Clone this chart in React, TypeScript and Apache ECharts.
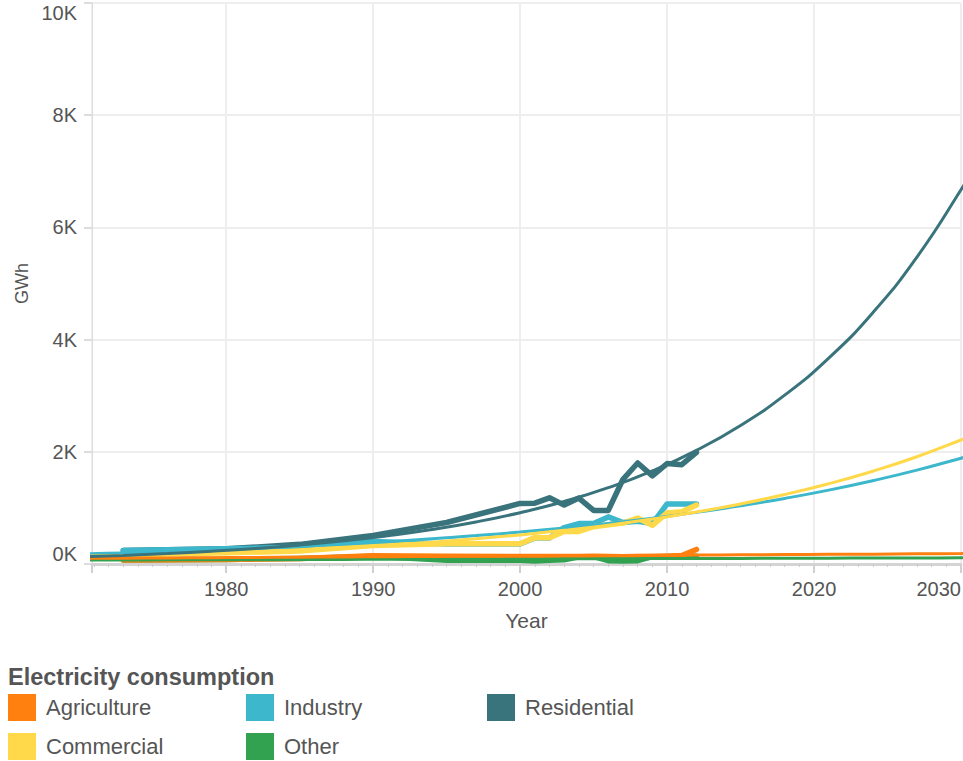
import React, { useEffect, useRef } from "react";
import * as echarts from "echarts";

const FONT = "'Liberation Sans', Arial, sans-serif";

const colors: Record<string, string> = {
  Agriculture: "#FF7F0F",
  Commercial: "#FFD94A",
  Industry: "#3CB7CC",
  Other: "#32A251",
  Residential: "#39737C",
};

const actualYears = [1973, 1980, 1985, 1990, 1995, 2000, 2001, 2002, 2003, 2004, 2005, 2006, 2007, 2008, 2009, 2010, 2011, 2012];
const agricultureActual = [70, 80, 100, 145, 140, 135, 135, 135, 135, 135, 140, 135, 130, 135, 135, 140, 150, 260];
const commercialActual = [160, 200, 230, 330, 360, 360, 470, 470, 580, 580, 665, 700, 730, 820, 690, 910, 930, 1050];
const industryActual = [240, 270, 300, 400, 355, 355, 465, 465, 650, 720, 720, 840, 740, 760, 720, 1070, 1070, 1070];
const otherActual = [70, 80, 100, 140, 65, 65, 55, 65, 75, 130, 130, 60, 55, 60, 130, 135, 140, 140];
const residentialActual = [240, 270, 350, 510, 740, 1080, 1085, 1180, 1050, 1175, 955, 955, 1510, 1800, 1570, 1790, 1770, 1990];

const trendYears = [1970, 1973, 1976, 1979, 1982, 1985, 1988, 1991, 1994, 1997, 2000, 2003, 2006, 2009, 2012, 2015, 2018, 2021, 2024, 2027, 2030, 2031];
const agricultureTrend = [100, 104, 108, 113, 117, 121, 125, 130, 134, 138, 142, 147, 151, 155, 159, 164, 168, 172, 176, 181, 185, 187];
const commercialTrend = [140, 150, 163, 188, 217, 251, 290, 336, 388, 449, 519, 600, 693, 801, 926, 1071, 1238, 1431, 1654, 1912, 2210, 2320];
const industryTrend = [180, 194, 219, 247, 278, 313, 353, 398, 449, 506, 570, 643, 724, 816, 920, 1037, 1169, 1317, 1485, 1673, 1886, 1960];
const otherTrend = [70, 72, 74, 76, 78, 80, 82, 84, 86, 88, 90, 92, 94, 96, 98, 100, 102, 104, 106, 108, 110, 111];
const residentialTrend = [126, 153, 187, 228, 278, 340, 413, 505, 615, 750, 915, 1115, 1360, 1660, 2025, 2470, 3010, 3670, 4480, 5470, 6670, 7120];

const yTicks = [0, 2000, 4000, 6000, 8000, 10000];

const legendRow1 = ["Agriculture", "Industry", "Residential"];
const legendRow2 = ["Commercial", "Other"];

const actualMap: Record<string, number[]> = {
  Agriculture: agricultureActual,
  Commercial: commercialActual,
  Industry: industryActual,
  Other: otherActual,
  Residential: residentialActual,
};
const trendMap: Record<string, number[]> = {
  Agriculture: agricultureTrend,
  Commercial: commercialTrend,
  Industry: industryTrend,
  Other: otherTrend,
  Residential: residentialTrend,
};

const actualOrder = ["Residential", "Other", "Industry", "Commercial", "Agriculture"];
const trendOrder = ["Other", "Industry", "Commercial", "Agriculture", "Residential"];

export default function App() {
  const ref = useRef<HTMLDivElement>(null);
  useEffect(() => {
    if (!ref.current) return;
    const chart = echarts.init(ref.current, undefined, { renderer: "svg" });
    const series: any[] = [];
    actualOrder.forEach((name) => {
      series.push({
        name,
        type: "line",
        data: actualYears.map((y, i) => [y, actualMap[name][i]]),
        showSymbol: false,
        symbol: "none",
        z: 2,
        itemStyle: { color: colors[name] },
        lineStyle: { color: colors[name], width: 5.5, cap: "round", join: "round" },
      });
    });
    trendOrder.forEach((name) => {
      series.push({
        name,
        type: "line",
        data: trendYears.map((y, i) => [y, trendMap[name][i]]),
        showSymbol: false,
        symbol: "none",
        smooth: true,
        z: 3,
        itemStyle: { color: colors[name] },
        lineStyle: { color: colors[name], width: 3 },
      });
    });
    const legendBase = {
      orient: "horizontal",
      icon: "rect",
      itemWidth: 28,
      itemHeight: 27,
      itemGap: 5,
      padding: 0,
      selectedMode: false,
      textStyle: { fontSize: 22, color: "#555", padding: [0, 0, 0, 5], fontFamily: FONT },
    };
    const colX = [8, 246, 487];
    const legends: any[] = [];
    legendRow1.forEach((n, i) => legends.push({ ...legendBase, left: colX[i], top: 694, data: [n] }));
    legendRow2.forEach((n, i) => legends.push({ ...legendBase, left: colX[i], top: 733, data: [n] }));
    chart.setOption({
      animation: false,
      textStyle: { fontFamily: FONT },
      title: {
        text: "Electricity consumption",
        left: 8,
        top: 665,
        padding: 0,
        textStyle: { fontSize: 23.5, fontWeight: "bold", color: "#555", fontFamily: FONT },
      },
      legend: legends,
      grid: { left: 92, right: 2, top: 3, bottom: 197, containLabel: false, outerBoundsMode: "none" },
      xAxis: {
        type: "value",
        min: 1970.87,
        max: 2030,
        name: "Year",
        nameLocation: "middle",
        nameGap: 46,
        nameTextStyle: { fontSize: 21, color: "#555", fontFamily: FONT },
        axisLine: { show: true, lineStyle: { color: "#d4d4d4", width: 3 } },
        axisTick: { show: true, length: 9, lineStyle: { color: "#d0d0d0", width: 2 } },
        minorTick: { show: true, splitNumber: 10, length: 3, lineStyle: { color: "#cccccc", width: 1 } },
        axisLabel: {
          fontSize: 20,
          color: "#555",
          margin: 15,
          fontFamily: FONT,
          showMinLabel: true,
          showMaxLabel: true,
          alignMaxLabel: "right",
          formatter: (v: number) => (Math.abs(v % 10) < 1e-6 ? String(Math.round(v)) : ""),
        },
        splitLine: { show: true, lineStyle: { color: "#eeeeee", width: 2 } },
      },
      yAxis: {
        type: "value",
        min: yTicks[0],
        max: yTicks[yTicks.length - 1],
        interval: 2000,
        name: "GWh",
        nameLocation: "middle",
        nameGap: 61,
        nameTextStyle: { fontSize: 18, color: "#555", fontFamily: FONT },
        axisLine: { show: true, lineStyle: { color: "#dddddd", width: 1 } },
        axisTick: { show: true, length: 8, lineStyle: { color: "#dddddd", width: 2 } },
        axisLabel: {
          fontSize: 20,
          color: "#555",
          margin: 15,
          fontFamily: FONT,
          verticalAlignMinLabel: "bottom",
          verticalAlignMaxLabel: "top",
          formatter: (v: number) => `${v / 1000}K`,
        },
        splitLine: { show: true, lineStyle: { color: "#eeeeee", width: 2 } },
      },
      series,
    });
    return () => chart.dispose();
  }, []);
  return (
    <div
      ref={ref}
      style={{ position: "fixed", left: 0, top: 0, width: 963, height: 761, background: "#fff" }}
    />
  );
}
